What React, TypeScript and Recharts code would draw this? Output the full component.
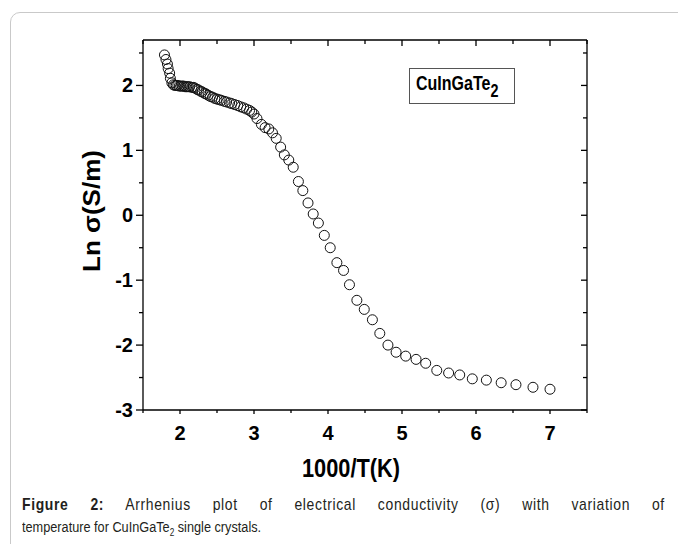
import { ScatterChart, Scatter, XAxis, YAxis } from 'recharts';

// 1000/T (K^-1) and ln(sigma)
const invTemp = [
  1.79, 1.81, 1.83, 1.84, 1.86, 1.87, 1.89, 1.91, 1.93, 1.95, 1.97, 1.99, 2.01, 2.03, 2.05, 2.07,
  2.09, 2.11, 2.13, 2.16, 2.18, 2.2, 2.23, 2.25, 2.28, 2.3, 2.33, 2.35, 2.38, 2.41, 2.44, 2.47,
  2.5, 2.53, 2.56, 2.6, 2.63, 2.67, 2.7, 2.74, 2.78, 2.82, 2.86, 2.9, 2.94, 2.97, 3.0, 3.04,
  3.1, 3.15, 3.2, 3.25, 3.3, 3.36, 3.41, 3.47, 3.53, 3.6, 3.66, 3.73, 3.8, 3.87, 3.95, 4.03,
  4.12, 4.21, 4.29, 4.39, 4.49, 4.6, 4.7, 4.81, 4.92, 5.05, 5.19, 5.32, 5.47, 5.63, 5.78, 5.95,
  6.14, 6.34, 6.54, 6.77, 7.0,
];
const lnSigma = [
  2.47, 2.4, 2.33, 2.26, 2.19, 2.11, 2.04, 2.01, 2.0, 2.0, 2.0, 1.99, 1.99, 1.99, 1.99, 1.98,
  1.98, 1.98, 1.98, 1.97, 1.97, 1.96, 1.94, 1.93, 1.91, 1.9, 1.88, 1.87, 1.85, 1.83, 1.82, 1.8,
  1.79, 1.78, 1.77, 1.755, 1.745, 1.73, 1.72, 1.705, 1.69, 1.67, 1.655, 1.635, 1.615, 1.59, 1.56, 1.49,
  1.4, 1.35, 1.33, 1.27, 1.185, 1.05, 0.93, 0.85, 0.74, 0.52, 0.38, 0.19, 0.02, -0.12, -0.31, -0.5,
  -0.73, -0.85, -1.07, -1.31, -1.45, -1.61, -1.82, -2.0, -2.11, -2.17, -2.22, -2.28, -2.39, -2.43, -2.46, -2.52,
  -2.54, -2.58, -2.61, -2.65, -2.68,
];

// major ticks get labels, the half steps are minor ticks
const xTicks = [1.5, 2, 2.5, 3, 3.5, 4, 4.5, 5, 5.5, 6, 6.5, 7, 7.5];
const yTicks = [-3, -2.5, -2, -1.5, -1, -0.5, 0, 0.5, 1, 1.5, 2, 2.5];

const data = invTemp.map((x, i) => ({ x, y: lnSigma[i] }));

const sans = '"Liberation Sans", Arial, sans-serif';
const axisStroke = { stroke: '#000', strokeWidth: 1.3 };
const isMajor = (v: number) => Number.isInteger(v);

const OpenCircle = (props: any) => (
  <circle cx={props.cx} cy={props.cy} r={5} fill="none" stroke="#111" strokeWidth={1} />
);
const NoMark = () => <g />;

const BottomTick = ({ x, y, payload }: any) => {
  const v = payload.value;
  return (
    <g>
      <line x1={x} x2={x} y1={y} y2={y + (isMajor(v) ? 4 : 3)} stroke="#000" strokeWidth={1.3} />
      {isMajor(v) && (
        <text x={x} y={y + 30} textAnchor="middle" fontFamily={sans} fontWeight={700} fontSize={20} fill="#000">
          {v}
        </text>
      )}
    </g>
  );
};

const LeftTick = ({ x, y, payload }: any) => {
  const v = payload.value;
  return (
    <g>
      <line x1={x - (isMajor(v) ? 7 : 4)} x2={x} y1={y} y2={y} stroke="#000" strokeWidth={1.3} />
      {isMajor(v) && (
        <text x={x - 10} y={y + 7} textAnchor="end" fontFamily={sans} fontWeight={700} fontSize={20} fill="#000">
          {v}
        </text>
      )}
    </g>
  );
};

const TopTick = ({ x, y, payload }: any) => (
  <line x1={x} x2={x} y1={y} y2={y + (isMajor(payload.value) ? 6 : 4)} stroke="#000" strokeWidth={1.3} />
);

const RightTick = ({ x, y, payload }: any) => (
  <line x1={x - (isMajor(payload.value) ? 6 : 4)} x2={x} y1={y} y2={y} stroke="#000" strokeWidth={1.3} />
);

const XTitle = (props: any) => {
  const vb = props.viewBox;
  return (
    <text
      x={vb.x + vb.width / 2 - 14}
      y={477}
      textAnchor="middle"
      fontFamily={sans}
      fontWeight={700}
      fontSize={25}
      textLength={98}
      lengthAdjust="spacingAndGlyphs"
    >
      1000/T(K)
    </text>
  );
};

const YTitle = () => (
  <text
    x={94}
    y={217}
    transform="rotate(-90, 94, 211)"
    textAnchor="middle"
    fontFamily={sans}
    fontWeight={700}
    fontSize={24}
    textLength={122}
    lengthAdjust="spacingAndGlyphs"
  >
    Ln σ(S/m)
  </text>
);

export default function App() {
  return (
    <div style={{ position: 'absolute', left: 0, top: 0, width: 678, height: 544, background: '#fff', overflow: 'hidden' }}>
      <div
        style={{
          position: 'absolute',
          left: 10,
          top: 12,
          width: 720,
          height: 600,
          border: '1px solid #c9c9c9',
          borderRadius: 10,
        }}
      />
      <div style={{ position: 'absolute', left: 0, top: 0 }}>
        <ScatterChart width={678} height={544} margin={{ top: 39, right: 90, left: 83, bottom: 74 }}>
          <XAxis
            xAxisId="main"
            dataKey="x"
            type="number"
            domain={[1.5, 7.5]}
            ticks={xTicks}
            interval={0}
            height={60}
            axisLine={axisStroke}
            tickLine={false}
            tickSize={0}
            tickMargin={0}
            tick={BottomTick}
            label={<XTitle />}
          />
          <XAxis
            xAxisId="top"
            orientation="top"
            dataKey="x"
            type="number"
            domain={[1.5, 7.5]}
            ticks={xTicks}
            interval={0}
            height={1}
            axisLine={axisStroke}
            tickLine={false}
            tickSize={0}
            tickMargin={0}
            tick={TopTick}
          />
          <YAxis
            yAxisId="main"
            dataKey="y"
            type="number"
            domain={[-3, 2.7]}
            ticks={yTicks}
            interval={0}
            width={60}
            axisLine={axisStroke}
            tickLine={false}
            tickSize={0}
            tickMargin={0}
            tick={LeftTick}
            label={<YTitle />}
          />
          <YAxis
            yAxisId="right"
            orientation="right"
            dataKey="y"
            type="number"
            domain={[-3, 2.7]}
            ticks={yTicks}
            interval={0}
            width={1}
            axisLine={axisStroke}
            tickLine={false}
            tickSize={0}
            tickMargin={0}
            tick={RightTick}
          />
          <Scatter
            name="CuInGaTe2"
            data={data}
            xAxisId="main"
            yAxisId="main"
            shape={OpenCircle}
            isAnimationActive={false}
          />
          {/* invisible twin so the mirrored top/right axes get drawn */}
          <Scatter
            data={data}
            xAxisId="top"
            yAxisId="right"
            shape={NoMark}
            legendType="none"
            isAnimationActive={false}
          />
        </ScatterChart>
      </div>
      <div
        style={{
          position: 'absolute',
          left: 409,
          top: 68,
          width: 104,
          height: 34,
          border: '1px solid #555',
          color: '#000',
        }}
      >
        <div
          style={{
            position: 'absolute',
            left: 6,
            top: 2,
            fontFamily: sans,
            fontWeight: 700,
            fontSize: 20,
            lineHeight: '24px',
            whiteSpace: 'nowrap',
            transform: 'scaleX(0.8)',
            transformOrigin: '0 0',
          }}
        >
          CuInGaTe<span style={{ fontSize: 18, position: 'relative', top: 7 }}>2</span>
        </div>
      </div>
      <div
        style={{
          position: 'absolute',
          left: 22,
          top: 494,
          width: 784,
          fontFamily: sans,
          fontSize: 17,
          lineHeight: '22px',
          letterSpacing: 0.8,
          textAlign: 'justify',
          textAlignLast: 'justify',
          color: '#231f20',
          whiteSpace: 'nowrap',
          transform: 'scaleX(0.82)',
          transformOrigin: '0 0',
        }}
      >
        <b>Figure 2:</b> Arrhenius plot of electrical conductivity (σ) with variation of
      </div>
      <div
        style={{
          position: 'absolute',
          left: 22,
          top: 516,
          fontFamily: sans,
          fontSize: 15.5,
          lineHeight: '22px',
          color: '#231f20',
          whiteSpace: 'nowrap',
          transform: 'scaleX(0.82)',
          transformOrigin: '0 0',
        }}
      >
        temperature for CuInGaTe<sub style={{ fontSize: 10, lineHeight: 0 }}>2</sub> single crystals.
      </div>
    </div>
  );
}
